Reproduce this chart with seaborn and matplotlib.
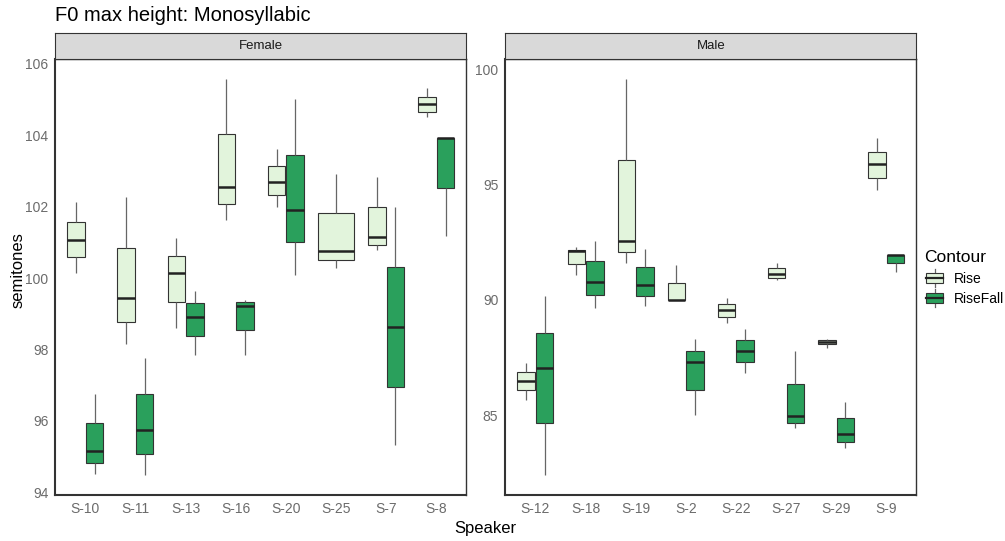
import seaborn as sns
import matplotlib.pyplot as plt
import pandas as pd
from matplotlib.patches import Patch, Rectangle
from matplotlib.lines import Line2D
from matplotlib.legend_handler import HandlerBase

# Speakers per panel
female_speakers = ['S-10', 'S-11', 'S-13', 'S-16', 'S-20', 'S-25', 'S-7', 'S-8']
male_speakers = ['S-12', 'S-18', 'S-19', 'S-2', 'S-22', 'S-27', 'S-29', 'S-9']

# Box summaries: [low whisker, Q1, median, Q3, high whisker]
female_rise = [
    [100.14, 100.59, 101.07, 101.58, 102.13],
    [98.15, 98.76, 99.45, 100.85, 102.28],
    [98.59, 99.34, 100.15, 100.61, 101.11],
    [101.63, 102.08, 102.56, 104.05, 105.57],
    [102.00, 102.33, 102.69, 103.14, 103.62],
    [100.27, 100.51, 100.76, 101.83, 102.92],
    [100.78, 100.94, 101.15, 101.99, 102.82],
    [104.50, 104.66, 104.87, 105.08, 105.33],
]
female_risefall = [
    [94.52, 94.82, 95.16, 95.94, 96.76],
    [94.49, 95.08, 95.74, 96.74, 97.76],
    [97.83, 98.37, 98.90, 99.29, 99.63],
    [97.85, 98.54, 99.23, 99.32, 99.39],
    [100.09, 101.00, 101.90, 103.45, 105.01],
    None,
    [95.32, 96.96, 98.64, 100.30, 101.98],
    [101.19, 102.53, 103.92, 103.92, 103.92],
]
male_rise = [
    [85.66, 86.08, 86.48, 86.86, 87.25],
    [91.09, 91.54, 92.10, 92.16, 92.29],
    [91.59, 92.08, 92.57, 96.05, 99.57],
    [90.00, 90.00, 90.00, 90.72, 91.50],
    [89.01, 89.26, 89.55, 89.84, 90.08],
    [90.88, 90.94, 91.13, 91.38, 91.60],
    [87.90, 88.07, 88.19, 88.26, 88.29],
    [94.77, 95.30, 95.89, 96.43, 97.01],
]
male_risefall = [
    [82.40, 84.67, 87.06, 88.58, 90.17],
    [89.66, 90.23, 90.76, 91.67, 92.57],
    [89.72, 90.18, 90.66, 91.43, 92.21],
    [85.00, 86.11, 87.29, 87.80, 88.29],
    [86.84, 87.29, 87.78, 88.25, 88.73],
    [84.44, 84.67, 84.97, 86.35, 87.80],
    [83.56, 83.83, 84.20, 84.87, 85.59],
    [91.22, 91.61, 91.95, 91.95, 91.95],
]

contours = ['Rise', 'RiseFall']
palette = {'Rise': '#e2f4dc', 'RiseFall': '#2aa05c'}


def to_long(speakers, rise, risefall):
    rows = []
    for spk, r, rf in zip(speakers, rise, risefall):
        for contour, vals in (('Rise', r), ('RiseFall', rf)):
            if vals is None:
                continue
            for v in vals:
                rows.append({'Speaker': spk, 'Contour': contour, 'semitones': v})
    return pd.DataFrame(rows)


class BoxHandler(HandlerBase):
    # small boxplot glyph for the legend keys
    def create_artists(self, legend, orig_handle, xd, yd, width, height, fontsize, trans):
        x0 = -xd + width * 0.1
        w = width * 0.8
        y0 = -yd
        whisker = Line2D([x0 + w / 2] * 2, [y0 - height * 0.35, y0 + height * 1.35],
                         color='#666666', lw=0.9, transform=trans)
        box = Rectangle((x0, y0), w, height, facecolor=orig_handle.get_facecolor(),
                        edgecolor='#333333', lw=0.8, transform=trans)
        median = Line2D([x0, x0 + w], [y0 + height / 2] * 2,
                        color='#222222', lw=1.6, transform=trans)
        return [whisker, box, median]


plt.rcParams['font.family'] = ['Liberation Sans', 'DejaVu Sans']

fig = plt.figure(figsize=(10.05, 5.41), dpi=100)

box_kw = dict(
    whis=(0, 100), showcaps=False, linecolor='#333333', linewidth=0.8,
    saturation=1,
    medianprops=dict(linewidth=1.8, color='#222222'),
    whiskerprops=dict(color='#666666', linewidth=0.9),
    legend=False,
)

panels = [
    ('Female', female_speakers, female_rise, female_risefall, 0.055, (93.92, 106.13), [94, 96, 98, 100, 102, 104, 106]),
    ('Male', male_speakers, male_rise, male_risefall, 0.5028, (81.54, 100.43), [85, 90, 95, 100]),
]

for name, speakers, rise, risefall, left, ylim, yticks in panels:
    ax = fig.add_axes([left, 0.085, 0.409, 0.8054])
    df = to_long(speakers, rise, risefall)
    counts = df.groupby('Speaker')['Contour'].nunique()
    both = df[df['Speaker'].map(counts) == 2]
    single = df[df['Speaker'].map(counts) == 1]

    sns.boxplot(data=both, x='Speaker', y='semitones', hue='Contour',
                order=speakers, hue_order=contours, palette=palette,
                width=0.74, gap=0.06, ax=ax, **box_kw)
    if len(single):
        sns.boxplot(data=single, x='Speaker', y='semitones', hue='Contour',
                    order=speakers, hue_order=contours, palette=palette,
                    dodge=False, width=0.7, ax=ax, **box_kw)

    ax.set_xlim(-0.6, len(speakers) - 0.4)
    ax.set_ylim(*ylim)
    ax.set_yticks(yticks)
    ax.set_xlabel('')
    ax.set_ylabel('')
    ax.tick_params(length=0, pad=5, labelsize=10, labelcolor='#6b6b6b')
    for side, sp in ax.spines.items():
        sp.set_color('#333333')
        sp.set_linewidth(1.5 if side in ('bottom', 'left') else 1.0)

    # facet strip
    strip = fig.add_axes([left, 0.085 + 0.8054, 0.409, 26 / 541])
    strip.set_facecolor('#d9d9d9')
    strip.set_xticks([])
    strip.set_yticks([])
    for sp in strip.spines.values():
        sp.set_color('#333333')
        sp.set_linewidth(0.8)
    strip.text(0.5, 0.5, name, ha='center', va='center', fontsize=9.5, color='#1a1a1a')

fig.text(0.055, 0.972, 'F0 max height: Monosyllabic', fontsize=14.5, va='center', ha='left')
fig.text(0.018, 0.5, 'semitones', rotation=90, fontsize=12, va='center', ha='center')
fig.text(0.483, 0.024, 'Speaker', fontsize=12, va='center', ha='center')

handles = [Patch(facecolor=palette[c], edgecolor='#333333', linewidth=0.8, label=c) for c in contours]
leg = fig.legend(handles=handles, title='Contour', loc='upper left',
                 bbox_to_anchor=(0.91, 0.555), frameon=False, fontsize=10,
                 title_fontsize=12.5, alignment='left', handlelength=1.5,
                 handleheight=0.75, labelspacing=0.45, handletextpad=0.6,
                 borderpad=0.2, handler_map={Patch: BoxHandler()})

fig.savefig('out.png', dpi=100)
